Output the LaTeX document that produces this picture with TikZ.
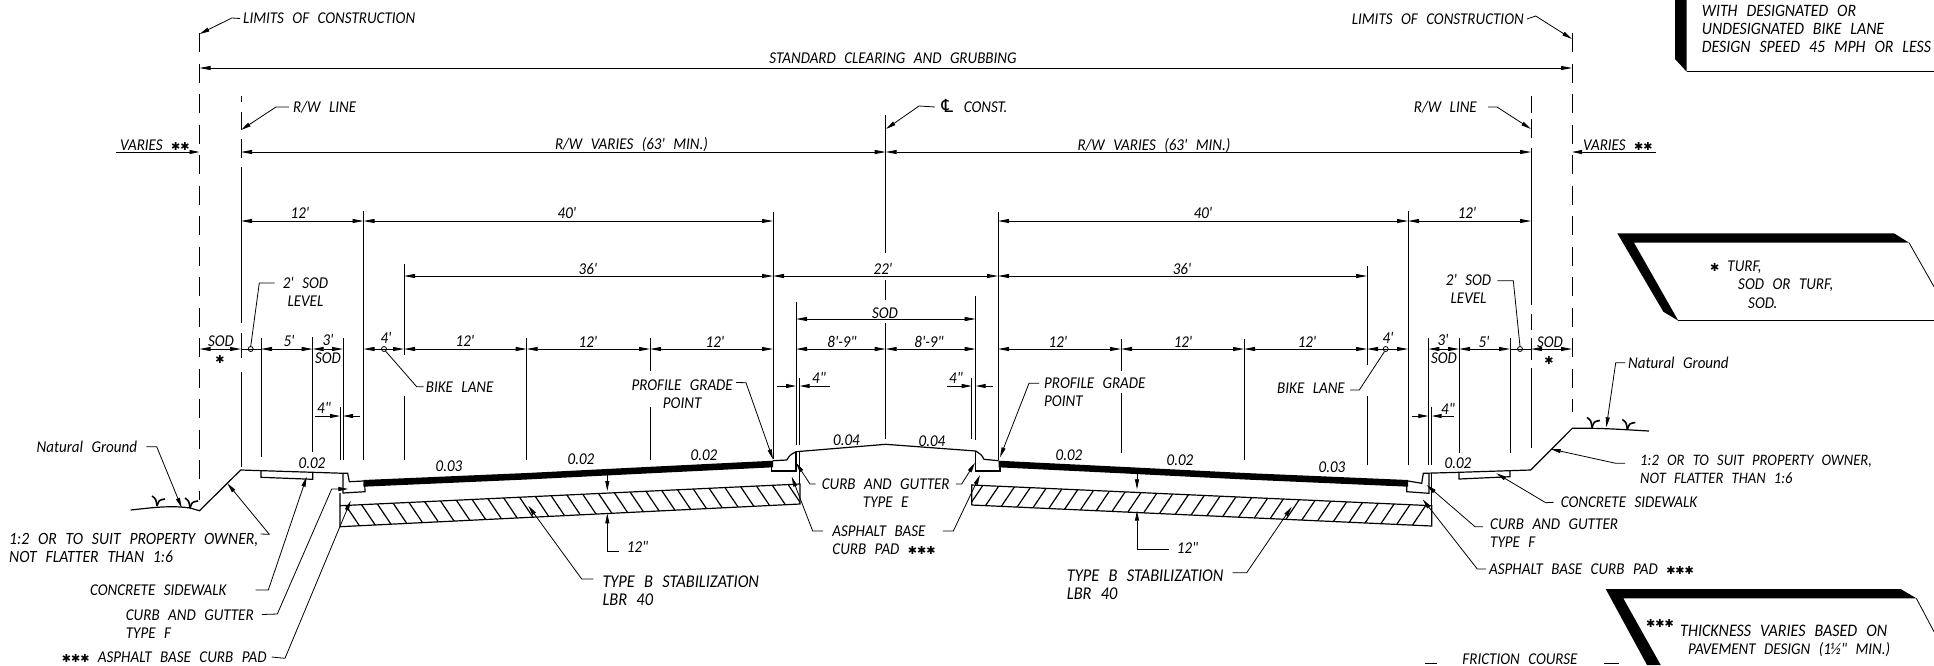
\documentclass[tikz,border=0pt]{standalone}
\usepackage{fontspec}
\usetikzlibrary{arrows.meta}
\newfontfamily\cadfont{Carlito}[WordSpace=2.5,FakeStretch=0.91]
\newfontfamily\cadsym{DejaVu Sans}
\newcommand{\hvy}[1]{{\cadsym\upshape\fontsize{11}{11}\selectfont #1}}
\tikzset{
  txt/.style={inner sep=0pt, font=\cadfont\itshape\fontsize{16.5}{18}\selectfont, text height=10.6pt, text depth=0pt},
  txtb/.style={inner sep=0pt, font=\cadfont\itshape\fontsize{16.5}{18}\selectfont},
  ext/.style={line width=.8pt},
  dim/.style={line width=.8pt, {Triangle[length=11pt,width=4pt]}-{Triangle[length=11pt,width=4pt]}},
  lead/.style={line width=.8pt, -{Triangle[length=10pt,width=4pt]}},
  limit/.style={line width=1pt, dash pattern=on 19.2pt off 11.3pt},
  prof/.style={line width=1.2pt},
}
\begin{document}
\begin{tikzpicture}[x=1pt,y=-1pt]
\useasboundingbox (0,0) rectangle (1934,665);
% limits and r/w lines
\draw[limit] (199.5,33) -- (199.5,500);
\draw[limit] (1572,33) -- (1572,412);
\foreach \ex/\ya/\yb in {241/96/102,241/112/130,241/139/158,241/167/323,241/333/358,241/372/467,
  1531/96/113,1531/119/138,1531/148/305,1531/314/330,1531/338/360,1531/368/448}
  \draw[ext, line width=1pt] (\ex,\ya) -- (\ex,\yb);
% extension lines
\foreach \ex/\ya/\yb in {261/338/457,312.7/337/452,343/338/460,340/407/460,363.5/211/460,404/264/355,404/396/460,
  526.7/338/460,650/338/371,650/407/460,773/212/459,796/302/445,799.7/378/445,885.7/115/253,885.7/280/300,885.7/323/439,
  971.7/378/439,975.7/296/440,998/212/460,1121/339/371,1121/393/453,1244/339/460,1367/266/365,1367/396/465,
  1408/211/465,1428.3/338/465,1431.7/407/465,1459/338/453,1510/338/453}
  \draw[ext] (\ex,\ya) -- (\ex,\yb);
% dimension rows
\draw[dim] (199.5,68) -- (1572,68);
\draw[dim] (241,152) -- (885.7,152);
\draw[dim] (885.7,152) -- (1531,152);
\foreach \xa/\xb in {241/363.5,363.5/773,998/1408,1408/1531}
  \draw[dim] (\xa,221) -- (\xb,221);
\foreach \xa/\xb in {404/773,773/998,998/1367}
  \draw[dim] (\xa,276) -- (\xb,276);
\draw[dim] (796,319) -- (975.7,319);
\foreach \xa/\xb in {199.5/241,261/312.7,312.7/343,363.5/404,404/526.7,526.7/650,650/773,796/885.7,885.7/975.7,
  998/1121,1121/1244,1244/1367,1367/1408,1428.3/1459,1459/1510,1531/1572}
  \draw[dim] (\xa,349) -- (\xb,349);
\draw[ext] (241,349) -- (261,349);
\draw[ext] (1510,349) -- (1531,349);
\draw[lead] (116,152) -- (199.5,152);
\draw[lead] (1656,152) -- (1572,152);
\foreach \xa/\xb/\yd in {315/340/416,360/343/416,777/796/386,830/799.7/386,947/971.7/386,993/975.7/386,1411.7/1428.3/416,1454/1431.7/416}
  \draw[lead] (\xa,\yd) -- (\xb,\yd);
\foreach \cx in {250.7,384,1385.7,1520}
  \draw[ext] (\cx,349) circle (2.5);
% roadway profile
\fill (363.3,480) -- (526.7,473) -- (650,466.8) -- (773,460.7) -- (773,467.3) -- (650,473.3) -- (526.7,479.5) -- (363.3,486.7) -- cycle;
\fill (1408.2,480) -- (1245,473) -- (1121.5,466.8) -- (998.5,460.7) -- (998.5,467.3) -- (1121.5,473.3) -- (1245,479.5) -- (1408.2,486.7) -- cycle;
\draw[prof] (130.7,510) .. controls (150,508) and (170,505) .. (190,508) -- (199.5,510.7) -- (240.7,470) -- (344.3,473.3) -- (347.7,473.3) -- (349.3,481.7) -- (363.3,481);
\draw[prof] (343,473.3) -- (343,493) -- (365,491.7) -- (364.7,483);
\draw[prof] (261,471) -- (261,477.3) -- (312.7,479.3) -- (312.7,472.5);
\draw[prof] (340,493) -- (340,526.7) -- (800,504) -- (800,484) -- (340,505.7);
\draw[prof] (771.7,467) -- (771.7,471) -- (796,471) -- (796,451.7);
\draw[prof] (773,460.7) -- (786.7,460) .. controls (790,455) .. (796,451.7) -- (885.7,444.3) -- (975.7,451) .. controls (981.7,455) .. (984,459.3) -- (998.5,460.7);
\draw[prof] (799.7,451.5) -- (799.7,484);
\draw[prof] (975.7,451) -- (975.7,471) -- (1000,471) -- (1000,467);
\draw[prof] (971.7,505) -- (971.7,485) -- (1431.7,505.7) -- (1431.7,526) -- (971.7,505);
\draw[prof] (1406.7,485.7) -- (1406.7,491.7) -- (1429,493.3) -- (1429,473.3);
\draw[prof] (1408.2,481) -- (1421.7,483.3) -- (1423.3,473.3) -- (1459,472.3) -- (1530.7,470) -- (1572.3,428.3) -- (1590.7,428.3) .. controls (1610,428.5) and (1630,430) .. (1649,431);
\draw[prof] (1431.7,473.3) -- (1431.7,505.7);
\draw[prof] (1459,472.3) -- (1459,479) -- (1510,476.7) -- (1510,470);
% hatch
\begin{scope}
\clip (340,505.7) -- (800,484) -- (800,504) -- (340,526.7) -- cycle;
\foreach \k in {-27,...,2}
  \draw[prof] ({762+16.3*\k},470) -- ++(40.4,60);
\end{scope}
\begin{scope}
\clip (971.7,485) -- (1431.7,505.7) -- (1431.7,526) -- (971.7,505) -- cycle;
\foreach \k in {-27,...,2}
  \draw[prof] ({1009.5-16.3*\k},470) -- ++(-40.4,60);
\end{scope}
% grass
\foreach \tx/\ty in {157/506,190/508,1592/427.5,1627.3/429.5}{
  \draw[prof, line width=1.6pt] (\tx-5,\ty-10) .. controls (\tx-1,\ty-7) .. (\tx,\ty);
  \draw[prof, line width=1.6pt] (\tx+8,\ty-7) .. controls (\tx+2,\ty-6) .. (\tx,\ty);
}
% top labels
\node[txt, anchor=west] (limL) at (243,18.5) {LIMITS OF CONSTRUCTION};
\node[txt, anchor=east] (limR) at (1524,19) {LIMITS OF CONSTRUCTION};
\node[txt] (clear) at (893,58) {STANDARD CLEARING AND GRUBBING};
\node[txt, anchor=west] (rwL) at (293,107) {R/W LINE};
\node[txt, anchor=east] (rwR) at (1477,107) {R/W LINE};
\node[txt, anchor=west] (cl) at (939,107) {{\cadsym\fontsize{18}{18}\selectfont ℄} CONST.};
\node[txt, anchor=west] (varL) at (120,145) {VARIES \hvy{✱✱}};
\node[txt, anchor=west] (varR) at (1583,145) {VARIES \hvy{✱✱}};
\node[txt] (rwvL) at (631.5,144) {R/W VARIES (63' MIN.)};
\node[txt] (rwvR) at (1154,145) {R/W VARIES (63' MIN.)};
\draw[lead] ([xshift=-3pt]limL.west) -- (231.7,18) -- (199.5,34);
\draw[lead] ([xshift=3pt]limR.east) -- (1535.7,16) -- (1572,39);
\draw[lead] ([xshift=-4pt]rwL.west) -- (276,107) -- (241,130);
\draw[lead] ([xshift=11pt]rwR.east) -- (1497,107) -- (1531,129);
\draw[lead] ([xshift=-4pt]cl.west) -- (919,106) -- (886,129);
% dimension labels
\node[txt] (d12a) at (300,213) {12'};
\node[txt] (d40a) at (567,213) {40'};
\node[txt] (d40b) at (1203,213) {40'};
\node[txt] (d12b) at (1467,213) {12'};
\node[txt] (d36a) at (588,269) {36'};
\node[txt] (d22) at (883,269) {22'};
\node[txt] (d36b) at (1182,269) {36'};
\node[txt] (dsod) at (885,312.7) {SOD};
\node[txt] (sodL) at (221,341) {SOD};
\node[txt] (astL) at (220,358) {\hvy{✱}};
\node[txt] (d5a) at (289,341) {5'};
\node[txt] (d3a) at (328,340) {3'};
\node[txt] (sodA) at (328,358) {SOD};
\node[txt] (d4a) at (386,338) {4'};
\node[txt] (d12c) at (465,341) {12'};
\node[txt] (d12d) at (588,342) {12'};
\node[txt] (d12e) at (715,342) {12'};
\node[txt] (d89a) at (842,342) {8'-9"};
\node[txt] (d89b) at (929,342) {8'-9"};
\node[txt] (d12f) at (1058,342) {12'};
\node[txt] (d12g) at (1183,342) {12'};
\node[txt] (d12h) at (1307,342) {12'};
\node[txt] (d4b) at (1388,338) {4'};
\node[txt] (d3b) at (1443,340) {3'};
\node[txt] (sodB) at (1444,358) {SOD};
\node[txt] (d5b) at (1484,342) {5'};
\node[txt] (sodR) at (1550,342) {SOD};
\node[txt] (astR) at (1549,359) {\hvy{✱}};
\node[txt] (in4a) at (324,408) {4"};
\node[txt] (in4b) at (819,378) {4"};
\node[txt] (in4c) at (956,378) {4"};
\node[txt] (in4d) at (1448,409) {4"};
% slopes
\node[txt] (sl1) at (312,463) {0.02};
\node[txt] (sl2) at (449,466) {0.03};
\node[txt] (sl3) at (581,459) {0.02};
\node[txt] (sl4) at (704,455) {0.02};
\node[txt] (sl5) at (846.5,440) {0.04};
\node[txt] (sl6) at (932,441) {0.04};
\node[txt] (sl7) at (1069,455) {0.02};
\node[txt] (sl8) at (1180,460) {0.02};
\node[txt] (sl9) at (1332,467) {0.03};
\node[txt] (sl10) at (1458,463.5) {0.02};
% left side labels
\node[txt, anchor=east] (ngL) at (137.3,446.7) {Natural Ground};
\node[txtb, anchor=north west, align=left, font=\cadfont\itshape\fontsize{17.2}{18}\selectfont] (ownL) at (9,533) {1:2 OR TO SUIT PROPERTY OWNER,\\NOT FLATTER THAN 1:6};
\node[txt, anchor=east] (swL) at (226.7,590) {CONCRETE SIDEWALK};
\node[txtb, anchor=north west, align=left] (cgL) at (125.7,609.5) {CURB AND GUTTER\\TYPE F};
\node[txt, anchor=east] (padL) at (266.7,657) {\hvy{✱✱✱} ASPHALT BASE CURB PAD};
\node[txtb, anchor=north, align=center] (lvlL) at (305.5,277.5) {2' SOD\\LEVEL};
\node[txt, anchor=west] (bikeL) at (425.7,386.7) {BIKE LANE};
\node[txtb, anchor=north east, align=center] (pgL) at (733,379.5) {PROFILE GRADE\\POINT};
\draw[lead] ([xshift=9pt]ngL.east) -- (156.7,446.7) -- (181.7,507.7);
\draw[lead] ([xshift=2pt,yshift=-1pt]ownL.north east) -- (269.3,534.3) -- (227.3,483.3);
\draw[lead] ([xshift=29pt]swL.east) -- (268.3,590) -- (306.7,476.7);
\draw[lead] ([xshift=8pt,yshift=-5pt]cgL.north east) -- (277.3,614) -- (331.7,489) -- (348.3,489);
\draw[lead] ([xshift=5pt]padL.east) -- (285,658.3) -- (350.7,500.7);
\draw[ext] ([xshift=-8pt,yshift=-5.5pt]lvlL.north west) -- (259.3,283) -- (250.7,346.5);
\draw[ext] ([xshift=-2pt]bikeL.west) -- (416.7,386.7) -- (385.5,351);
\draw[lead] ([xshift=3pt,yshift=-3pt]pgL.north east) -- (746,382.7) -- (773,459.3);
% center labels
\node[txtb, anchor=north, align=center] (cgE) at (885.7,479) {CURB AND GUTTER\\TYPE E};
\node[txtb, anchor=north, align=left] (padC) at (884,526) {ASPHALT BASE\\CURB PAD \hvy{✱✱✱}};
\draw[lead] ([xshift=-6pt,yshift=-5pt]cgE.north west) -- (810,484) -- (796,462.7);
\draw[lead] ([xshift=6pt,yshift=-5pt]cgE.north east) -- (961.7,484) -- (975,462.7);
\draw[lead] ([xshift=-9pt,yshift=-5pt]padC.north west) -- (812.7,531) -- (791.7,476.7);
\draw[lead] ([xshift=7pt,yshift=-5pt]padC.north east) -- (953.3,531) -- (980,475);
\node[txt, anchor=west] (in12a) at (626.7,547.3) {12"};
\node[txt, anchor=west] (in12b) at (1176.7,548.3) {12"};
\draw[lead] ([xshift=-8pt,yshift=-4.4pt]in12a.west) -- (607.3,551.7) -- (607.3,513.3);
\draw[lead] (607.3,475) -- (607.3,491);
\draw[lead] ([xshift=-8pt,yshift=-1pt]in12b.west) -- (1137,549.3) -- (1137,510.7);
\draw[lead] (1137,473.3) -- (1137,489.3);
\node[txtb, anchor=north west, align=left, font=\cadfont\itshape\fontsize{18}{18}\selectfont] (stabL) at (602.3,576) {TYPE B STABILIZATION\\LBR 40};
\node[txtb, anchor=north west, align=left, font=\cadfont\itshape\fontsize{18}{18}\selectfont] (stabR) at (1066.7,570) {TYPE B STABILIZATION\\LBR 40};
\draw[lead] ([xshift=-9pt,yshift=-3pt]stabL.north west) -- (581.7,579) -- (528.3,505.7);
\draw[lead] ([xshift=9pt,yshift=-2.7pt]stabR.north east) -- (1246.7,572.7) -- (1291.7,506.7);
% right side labels
\node[txtb, anchor=north west, align=left] (pgR) at (1044,377.5) {PROFILE GRADE\\POINT};
\node[txt, anchor=east] (bikeR) at (1345,388) {BIKE LANE};
\node[txtb, anchor=north, align=center] (lvlR) at (1468.5,274) {2' SOD\\LEVEL};
\draw[lead] ([xshift=-5pt,yshift=-5.8pt]pgR.north west) -- (1029,383.3) -- (1000,457.3);
\draw[ext] ([xshift=5pt,yshift=-2pt]bikeR.east) -- (1359.3,390) -- (1384.5,351.5);
\draw[ext] ([xshift=6pt,yshift=-6.7pt]lvlR.north east) -- (1513.3,280.7) -- (1520,346.5);
\node[txt, anchor=west] (ngR) at (1628,362.7) {Natural Ground};
\node[txtb, anchor=north west, align=left, font=\cadfont\itshape\fontsize{16}{18}\selectfont] (ownR) at (1640,454.5) {1:2 OR TO SUIT PROPERTY OWNER,\\NOT FLATTER THAN 1:6};
\node[txt, anchor=west] (swR) at (1560.7,502.3) {CONCRETE SIDEWALK};
\node[txtb, anchor=north west, align=left] (cgR) at (1490,519) {CURB AND GUTTER\\TYPE F};
\node[txt, anchor=west] (padR) at (1489,569) {ASPHALT BASE CURB PAD \hvy{✱✱✱}};
\draw[lead] ([xshift=-3pt]ngR.west) -- (1615.7,362.7) -- (1606.3,427.3);
\draw[lead] ([xshift=-15pt,yshift=-8.8pt]ownR.north west) -- (1615.7,463.3) -- (1550.7,449);
\draw[lead] ([xshift=-7pt]swR.west) -- (1545.7,502.7) -- (1496.3,473.3);
\draw[lead] ([xshift=-7pt,yshift=-7.7pt]cgR.north west) -- (1475,526.7) -- (1426.7,485);
\draw[lead] ([xshift=-3pt]padR.west) -- (1477.3,569) -- (1422.7,499.3);
% note boxes
\fill (1675,0) -- (1675,59) -- (1686.7,71.7) -- (1686.7,0) -- cycle;
\draw[prof] (1686.7,71.7) -- (1934,71.7);
\node[txtb, anchor=north west, align=left, font=\cadfont\itshape\fontsize{17.4}{18}\selectfont] (noteA) at (1701.7,5) {WITH DESIGNATED OR\\UNDESIGNATED BIKE LANE\\DESIGN SPEED 45 MPH OR LESS};
\fill (1617.3,233.3) -- (1894,233.3) -- (1909,242.7) -- (1634,242.7) -- (1678.3,320.7) -- (1663.3,311.7) -- cycle;
\draw[ext] (1909,242.7) -- (1934,286.7);
\draw[prof] (1678.3,320.7) -- (1934,320.7);
\node[txt, anchor=west] (noteB1) at (1710,265.7) {\hvy{✱}\hspace{8pt}TURF,};
\node[txt, anchor=west] (noteB2) at (1738,284.3) {SOD OR TURF,};
\node[txt, anchor=west] (noteB3) at (1748,302.7) {SOD.};
\fill (1605.7,589) -- (1900.7,589) -- (1916.3,598.3) -- (1623.3,598.3) -- (1660.7,665) -- (1647,665) -- cycle;
\draw[ext] (1916.3,598.3) -- (1934,631.7);
\node[txt, anchor=west] (noteC0) at (1646,621.7) {\hvy{✱✱✱}};
\node[txt, anchor=west, font=\cadfont\itshape\fontsize{17.6}{18}\selectfont] (noteC1) at (1680,631) {THICKNESS VARIES BASED ON};
\node[txt, anchor=west] (noteC2) at (1688,649.3) {PAVEMENT DESIGN (1½" MIN.)};
\node[txt] (fric) at (1520,659) {FRICTION COURSE};
\draw[ext] (fric.west) ++(-37,4) -- ++(12,0);
\draw[ext] (fric.east) ++(26,4) -- ++(15,0);
\end{tikzpicture}
\end{document}
